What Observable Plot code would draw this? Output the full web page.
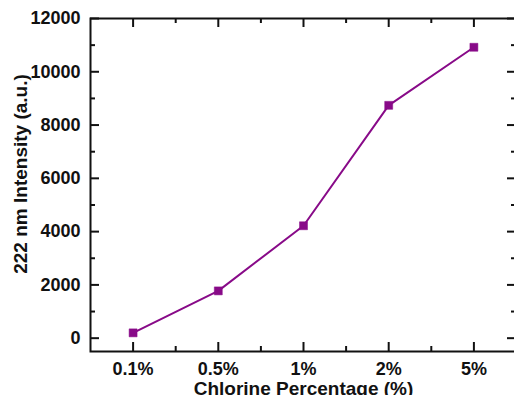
<!DOCTYPE html>
<html>
<head>
<meta charset="utf-8">
<script src="https://cdn.jsdelivr.net/npm/d3@7"></script>
<script src="https://cdn.jsdelivr.net/npm/@observablehq/plot@0.6"></script>
<style>
  html, body { margin: 0; padding: 0; background: #fff; overflow: hidden; }
  #chart { width: 514px; height: 395px; overflow: hidden; }
  #chart svg { max-width: none !important; }
</style>
</head>
<body>
<div id="chart"></div>
<script>
const categories = ["0.1%", "0.5%", "1%", "2%", "5%"];
const intensity = [200, 1775, 4220, 8740, 10920];
const yMajorTicks = [0, 2000, 4000, 6000, 8000, 10000, 12000];
const yMinorTicks = [1000, 3000, 5000, 7000, 9000, 11000];
const xMajorTicks = [0, 1, 2, 3, 4];
const xMinorTicks = [0.5, 1.5, 2.5, 3.5];

const data = categories.map((c, i) => ({i, c, v: intensity[i]}));
const color = "#880a88";
const font = "'Liberation Sans', Arial, sans-serif";

const W = 520, H = 395, mL = 90, mR = 4, mT = 18, mB = 44;
const fw = W - mL - mR, fh = H - mT - mB;
const majLen = 9, minLen = 5;
const tk = {stroke: "#111", strokeWidth: 2};

const chart = Plot.plot({
  width: W,
  height: H,
  marginLeft: mL,
  marginRight: mR,
  marginTop: mT,
  marginBottom: mB,
  style: {fontFamily: font, fontSize: "18px", fontWeight: "bold", color: "#111", background: "#fff", maxWidth: "none"},
  x: {type: "linear", domain: [-0.5, 4.5]},
  y: {domain: [-500, 12000]},
  marks: [
    // tick labels
    Plot.axisY({ticks: yMajorTicks, tickSize: 0, tickPadding: 10, label: null, tickFormat: d => String(d), fontSize: 18, fontWeight: "bold"}),
    Plot.axisX({ticks: xMajorTicks, tickSize: 0, tickPadding: 11, label: null, tickFormat: d => categories[d], fontSize: 18, fontWeight: "bold"}),
    // inward tick marks on all four sides
    Plot.tickY(yMajorTicks, {y: d => d, insetRight: fw - majLen, ...tk}),
    Plot.tickY(yMinorTicks, {y: d => d, insetRight: fw - minLen, ...tk}),
    Plot.tickY(yMajorTicks, {y: d => d, insetLeft: fw - majLen, ...tk}),
    Plot.tickY(yMinorTicks, {y: d => d, insetLeft: fw - minLen, ...tk}),
    Plot.tickX(xMajorTicks, {x: d => d, insetTop: fh - majLen, ...tk}),
    Plot.tickX(xMinorTicks, {x: d => d, insetTop: fh - minLen, ...tk}),
    Plot.tickX(xMajorTicks, {x: d => d, insetBottom: fh - majLen, ...tk}),
    Plot.tickX(xMinorTicks, {x: d => d, insetBottom: fh - minLen, ...tk}),
    Plot.frame({stroke: "#111", strokeWidth: 2}),
    Plot.line(data, {x: "i", y: "v", stroke: color, strokeWidth: 2}),
    Plot.dot(data, {x: "i", y: "v", symbol: "square", r: 4.5, fill: color, stroke: color, strokeWidth: 0.5}),
    // axis titles
    Plot.text(["222 nm Intensity (a.u.)"], {frameAnchor: "left", dx: -70, dy: -11, rotate: -90, textAnchor: "middle", fontSize: 19, fontWeight: "bold", fill: "#111"}),
    Plot.text(["Chlorine Percentage (%)"], {frameAnchor: "bottom", dy: 37, textAnchor: "middle", lineAnchor: "middle", fontSize: 19, fontWeight: "bold", fill: "#111"})
  ]
});
document.getElementById("chart").appendChild(chart);
</script>
</body>
</html>
